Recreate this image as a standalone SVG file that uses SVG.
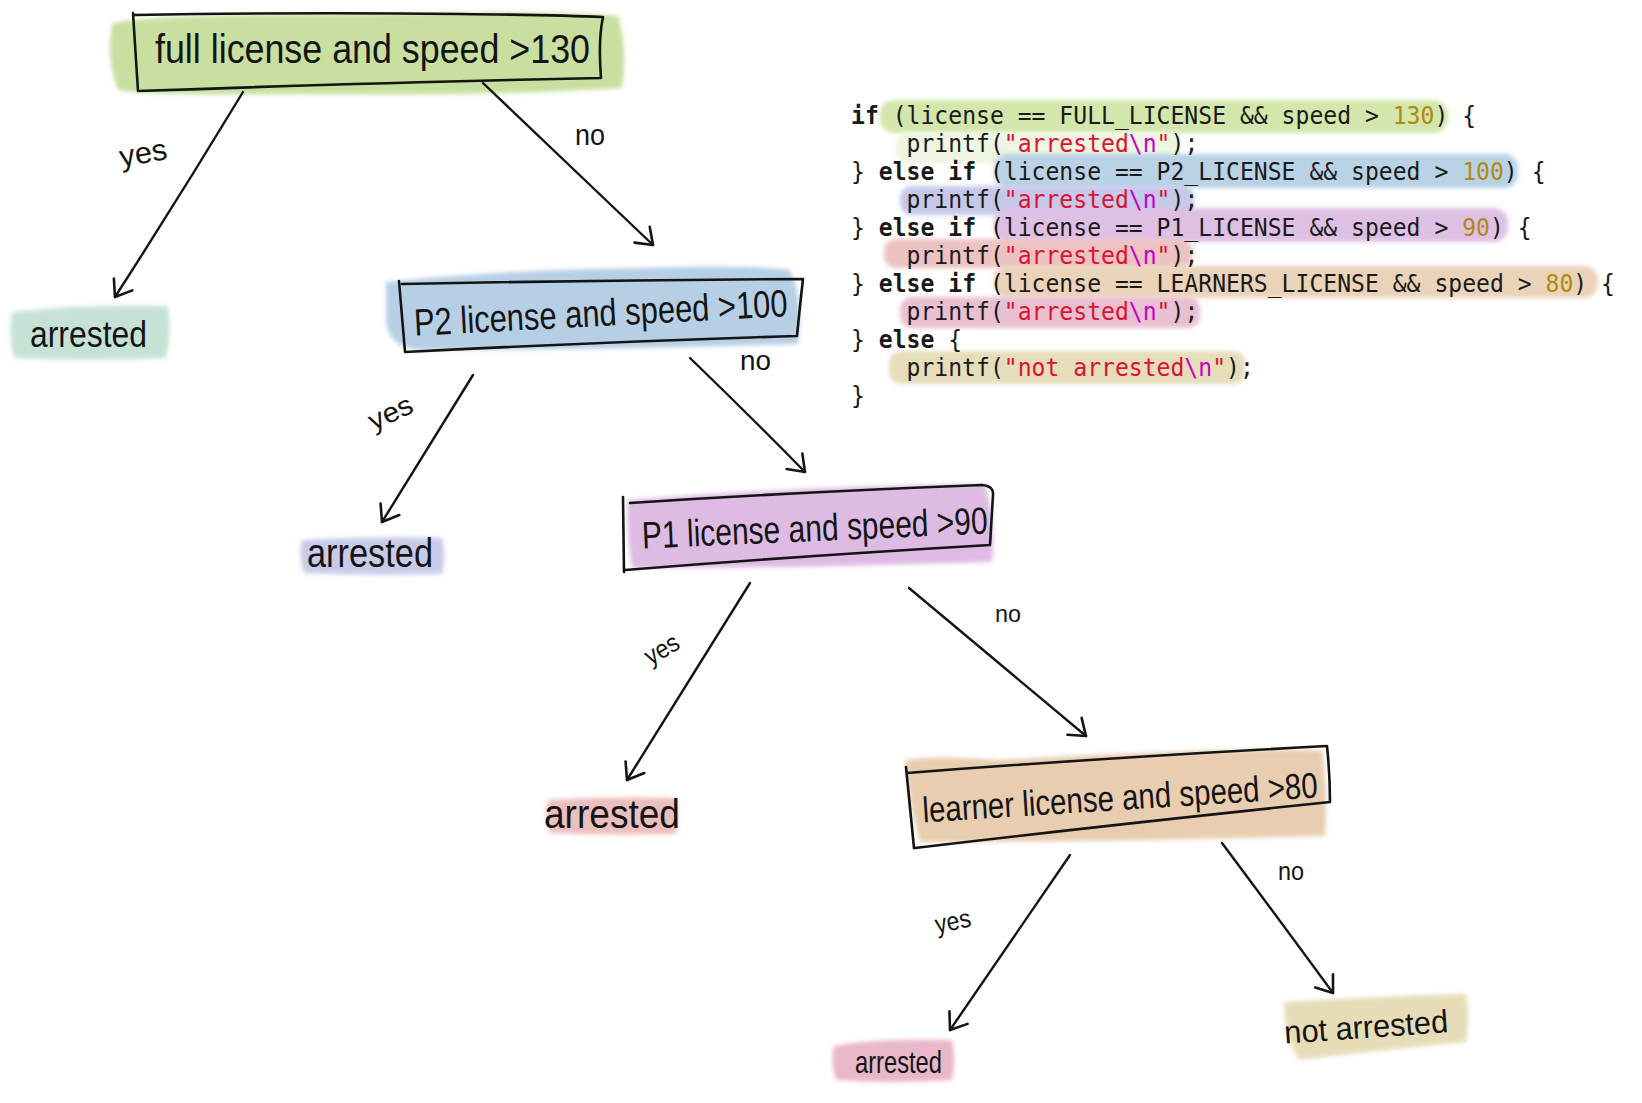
<svg xmlns="http://www.w3.org/2000/svg" width="1642" height="1103" viewBox="0 0 1642 1103">
<style>
.hand{font-family:"Liberation Sans","DejaVu Sans",sans-serif;fill:#141414;}
.box{fill:none;stroke:#141414;stroke-width:2.6;stroke-linejoin:round;stroke-linecap:round;}
.edge{fill:none;stroke:#141414;stroke-width:2.4;stroke-linecap:round;}
.code{font-family:"DejaVu Sans Mono","Liberation Mono",monospace;font-size:24px;fill:#1a1a1a;white-space:pre;}
.kw{font-weight:bold;}
.str{fill:#dc1230;}
.esc{fill:#c800c8;}
.num{fill:#b08a10;}
.hl{filter:url(#soft);}
</style>
<defs>
<filter id="soft" x="-10%" y="-30%" width="120%" height="160%"><feGaussianBlur stdDeviation="2.2"/></filter>
<marker id="ah" viewBox="-20 -15 25 30" markerWidth="25" markerHeight="30" refX="0" refY="0" orient="auto" markerUnits="userSpaceOnUse" overflow="visible">
<path d="M-15,-11 L0,0 L-15,11" fill="none" stroke="#141414" stroke-width="2.6" stroke-linecap="round" stroke-linejoin="round"/>
</marker>
</defs>
<rect width="1642" height="1103" fill="#ffffff"/>

<g id="code">
<rect class="hl" x="880" y="100" width="568" height="33" rx="14" fill="#d3e6ab"/>
<rect class="hl" x="896" y="133" width="285" height="30" rx="12" fill="#eef5e2"/>
<rect class="hl" x="994" y="154" width="524" height="34" rx="14" fill="#b9d2e6"/>
<rect class="hl" x="900" y="186" width="294" height="29" rx="12" fill="#c6c8ea"/>
<rect class="hl" x="994" y="208" width="514" height="34" rx="14" fill="#dfc0e5"/>
<rect class="hl" x="884" y="239" width="308" height="29" rx="12" fill="#edc2c2"/>
<rect class="hl" x="994" y="266" width="604" height="32" rx="14" fill="#ebd3b9"/>
<rect class="hl" x="900" y="297" width="300" height="31" rx="12" fill="#e9bfd2"/>
<rect class="hl" x="889" y="351" width="356" height="33" rx="12" fill="#e6ddbb"/>
<g transform="translate(851 0) scale(0.962 1)">
<text class="code" x="0" y="124"><tspan class="kw">if</tspan> (license == FULL_LICENSE &amp;&amp; speed &gt; <tspan class="num">130</tspan>) {</text>
<text class="code" x="0" y="152">    printf(<tspan class="str">"arrested</tspan><tspan class="esc">\n</tspan><tspan class="str">"</tspan>);</text>
<text class="code" x="0" y="180">} <tspan class="kw">else if</tspan> (license == P2_LICENSE &amp;&amp; speed &gt; <tspan class="num">100</tspan>) {</text>
<text class="code" x="0" y="208">    printf(<tspan class="str">"arrested</tspan><tspan class="esc">\n</tspan><tspan class="str">"</tspan>);</text>
<text class="code" x="0" y="236">} <tspan class="kw">else if</tspan> (license == P1_LICENSE &amp;&amp; speed &gt; <tspan class="num">90</tspan>) {</text>
<text class="code" x="0" y="264">    printf(<tspan class="str">"arrested</tspan><tspan class="esc">\n</tspan><tspan class="str">"</tspan>);</text>
<text class="code" x="0" y="292">} <tspan class="kw">else if</tspan> (license == LEARNERS_LICENSE &amp;&amp; speed &gt; <tspan class="num">80</tspan>) {</text>
<text class="code" x="0" y="320">    printf(<tspan class="str">"arrested</tspan><tspan class="esc">\n</tspan><tspan class="str">"</tspan>);</text>
<text class="code" x="0" y="348">} <tspan class="kw">else</tspan> {</text>
<text class="code" x="0" y="376">    printf(<tspan class="str">"not arrested</tspan><tspan class="esc">\n</tspan><tspan class="str">"</tspan>);</text>
<text class="code" x="0" y="404">}</text>
</g>
</g>

<g id="node-full">
<path class="hl" d="M112,24 Q140,14 360,14 Q560,10 618,16 Q628,50 622,88 Q500,96 300,94 Q150,96 118,90 Q106,60 112,24 Z" fill="#c8df9f"/>
<path class="box" d="M133,13 L138,91 M135,15 Q300,12 460,14 Q560,15 603,17 Q598,40 601,78 Q400,82 138,91"/>
<text class="hand" x="155" y="63" font-size="40" textLength="435" lengthAdjust="spacingAndGlyphs">full license and speed &gt;130</text>
</g>

<g id="node-p2">
<path class="hl" d="M386,282 Q500,270 640,268 Q740,264 790,270 Q804,300 798,344 Q600,350 420,350 Q388,348 386,320 Z" fill="#b6cfe4"/>
<path class="box" d="M399,281 L405,352 M402,284 Q600,280 803,279 Q800,305 797,336 Q600,342 405,352"/>
<text class="hand" x="414" y="326" font-size="38" textLength="374" lengthAdjust="spacingAndGlyphs" transform="rotate(-3 600 318)">P2 license and speed &gt;100</text>
</g>

<g id="node-p1">
<path class="hl" d="M628,500 Q800,486 985,484 Q996,520 992,562 Q800,568 632,568 Q626,530 628,500 Z" fill="#ddbbe2"/>
<path class="box" d="M623,497 L624,572 M630,503 Q800,492 982,485 Q994,486 993,495 L990,545 Q800,556 625,570"/>
<text class="hand" x="642" y="541" font-size="38" textLength="346" lengthAdjust="spacingAndGlyphs" transform="rotate(-2.5 815 533)">P1 license and speed &gt;90</text>
</g>

<g id="node-learner">
<path class="hl" d="M905,760 Q935,755 1000,760 Q1200,748 1322,750 Q1328,790 1325,836 Q1100,842 920,842 Q908,800 905,760 Z" fill="#e8cdb0"/>
<path class="box" d="M906,767 L914,848 M907,773 Q1100,758 1327,746 Q1330,775 1330,802 Q1100,826 915,848"/>
<text class="hand" x="922" y="810" font-size="36" textLength="396" lengthAdjust="spacingAndGlyphs" transform="rotate(-3.6 1120 798)">learner license and speed &gt;80</text>
</g>

<g id="leaf-1">
<path class="hl" d="M12,312 Q90,304 168,306 Q172,335 166,358 Q90,362 14,358 Q8,335 12,312 Z" fill="#c6e2d5"/>
<text class="hand" x="30" y="347" font-size="36" textLength="117" lengthAdjust="spacingAndGlyphs">arrested</text>
</g>

<g id="leaf-2">
<path class="hl" d="M302,540 Q380,536 442,538 Q446,556 442,574 Q370,576 304,573 Q298,556 302,540 Z" fill="#c8cae8"/>
<text class="hand" x="307" y="567" font-size="40" textLength="126" lengthAdjust="spacingAndGlyphs">arrested</text>
</g>

<g id="leaf-3">
<path class="hl" d="M548,800 Q620,796 676,798 Q680,816 676,834 Q610,836 550,833 Q544,816 548,800 Z" fill="#ecbfbf"/>
<text class="hand" x="544" y="828" font-size="40" textLength="136" lengthAdjust="spacingAndGlyphs">arrested</text>
</g>

<g id="leaf-4">
<path class="hl" d="M834,1046 Q880,1038 952,1040 Q956,1060 952,1080 Q890,1084 836,1080 Q830,1062 834,1046 Z" fill="#e8b7ca"/>
<text class="hand" x="855" y="1073" font-size="32" textLength="87" lengthAdjust="spacingAndGlyphs">arrested</text>
</g>

<g id="leaf-not">
<path class="hl" d="M1284,1002 Q1380,996 1466,994 Q1470,1020 1466,1042 Q1380,1050 1300,1060 Q1284,1040 1284,1002 Z" fill="#e6ddb8"/>
<text class="hand" x="1284" y="1038" font-size="32" textLength="164" lengthAdjust="spacingAndGlyphs" transform="rotate(-4 1365 1025)">not arrested</text>
</g>

<g id="connectors">
<path class="edge" marker-end="url(#ah)" d="M243,92 Q180,196 115,297"/>
<path class="edge" marker-end="url(#ah)" d="M483,83 Q570,166 653,245"/>
<path class="edge" marker-end="url(#ah)" d="M473,375 Q428,448 382,522"/>
<path class="edge" marker-end="url(#ah)" d="M690,358 Q748,414 805,472"/>
<path class="edge" marker-end="url(#ah)" d="M750,583 Q688,682 627,780"/>
<path class="edge" marker-end="url(#ah)" d="M909,588 Q998,662 1086,736"/>
<path class="edge" marker-end="url(#ah)" d="M1070,855 Q1010,943 950,1030"/>
<path class="edge" marker-end="url(#ah)" d="M1222,843 Q1278,918 1333,993"/>
<text class="hand" x="120" y="163" font-size="30" textLength="48" lengthAdjust="spacingAndGlyphs" transform="rotate(-10 144 158)">yes</text>
<text class="hand" x="575" y="145" font-size="30" textLength="30" lengthAdjust="spacingAndGlyphs">no</text>
<text class="hand" x="368" y="422" font-size="28" textLength="46" lengthAdjust="spacingAndGlyphs" transform="rotate(-25 391 414)">yes</text>
<text class="hand" x="740" y="370" font-size="28" textLength="31" lengthAdjust="spacingAndGlyphs">no</text>
<text class="hand" x="643" y="658" font-size="26" textLength="36" lengthAdjust="spacingAndGlyphs" transform="rotate(-30 661 648)">yes</text>
<text class="hand" x="995" y="622" font-size="24" textLength="26" lengthAdjust="spacingAndGlyphs">no</text>
<text class="hand" x="935" y="930" font-size="26" textLength="36" lengthAdjust="spacingAndGlyphs" transform="rotate(-12 953 922)">yes</text>
<text class="hand" x="1278" y="880" font-size="26" textLength="26" lengthAdjust="spacingAndGlyphs">no</text>
</g>
</svg>
